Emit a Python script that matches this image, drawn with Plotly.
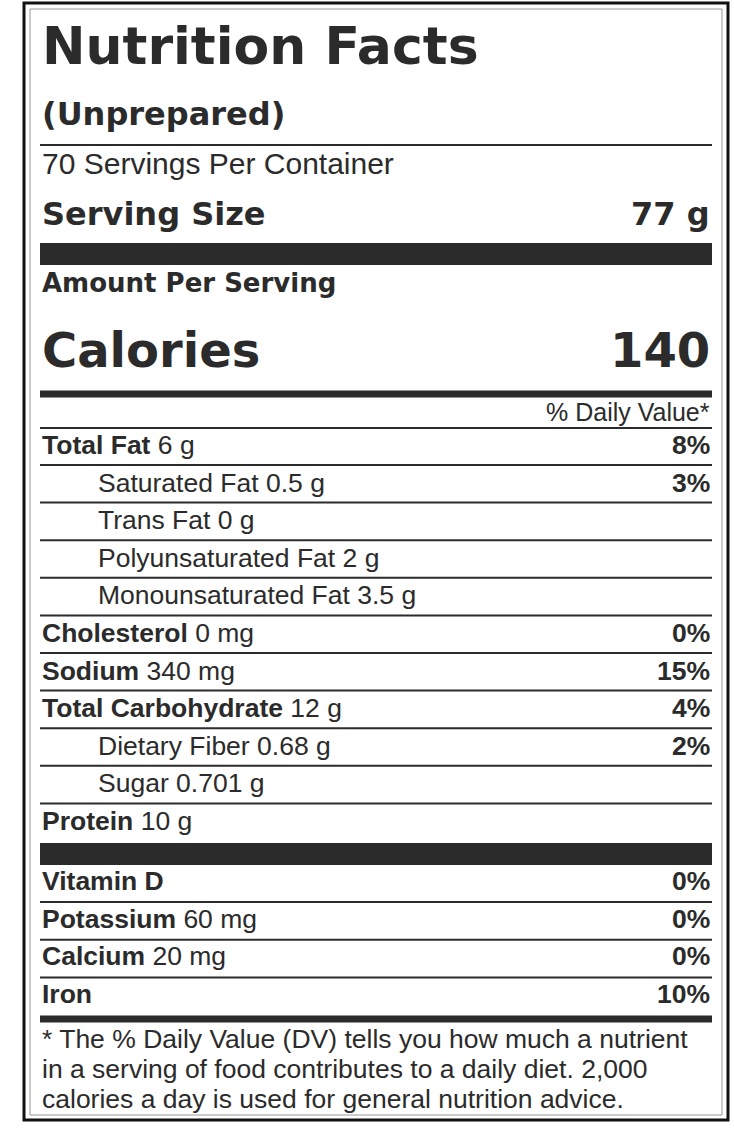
import plotly.graph_objects as go

W, H = 734, 1134
FONT = "Liberation Sans"
HEAVY = "DejaVu Sans"
INK = "#2b2b2b"

# nutrient rows
labels = ["Total Fat", "Saturated Fat", "Trans Fat", "Polyunsaturated Fat",
          "Monounsaturated Fat", "Cholesterol", "Sodium", "Total Carbohydrate",
          "Dietary Fiber", "Sugar", "Protein"]
amounts = ["6 g", "0.5 g", "0 g", "2 g", "3.5 g", "0 mg", "340 mg", "12 g",
           "0.68 g", "0.701 g", "10 g"]
daily = ["8%", "3%", "", "", "", "0%", "15%", "4%", "2%", "", ""]
indented = [False, True, True, True, True, False, False, False, True, True, False]

# vitamins / minerals
vit_labels = ["Vitamin D", "Potassium", "Calcium", "Iron"]
vit_amounts = ["", "60 mg", "20 mg", ""]
vit_daily = ["0%", "0%", "0%", "10%"]

footnote = ["* The % Daily Value (DV) tells you how much a nutrient",
            "in a serving of food contributes to a daily diet. 2,000",
            "calories a day is used for general nutrition advice."]

L, R = 40, 712
fig = go.Figure()
shapes = []
ann = []


def text(x, y, s, size, bold=False, anchor="left", family=FONT):
    if bold:
        s = "<b>" + s + "</b>"
    ann.append(dict(x=x, y=y, text=s, showarrow=False, xanchor=anchor, yanchor="middle",
                    font=dict(family=family, size=size, color=INK)))


def hline(y, w):
    shapes.append(dict(type="rect", x0=L, x1=R, y0=y - w / 2, y1=y + w / 2,
                       fillcolor=INK, line=dict(width=0)))


# borders
shapes.append(dict(type="rect", x0=24, x1=728, y0=3, y1=1120, line=dict(color="#111", width=3)))
shapes.append(dict(type="rect", x0=30, x1=722, y0=9, y1=1115, line=dict(color="#999", width=1)))

text(L, 46, "Nutrition Facts", 52, True, family=HEAVY)
text(L, 114, "(Unprepared)", 32, True, family=HEAVY)
hline(145, 2)
text(L, 163, "70 Servings Per Container", 30)
text(L, 214, "Serving Size", 32, True, family=HEAVY)
text(R, 214, "77 g", 32, True, "right", family=HEAVY)
hline(254, 22)
text(L, 283, "Amount Per Serving", 26, True, family=HEAVY)
text(L, 350, "Calories", 48, True, family=HEAVY)
text(R, 350, "140", 48, True, "right", family=HEAVY)
hline(394, 7)
text(R, 412, "% Daily Value*", 25, anchor="right")
hline(428, 2)

y, step = 445, 37.6
for i in range(len(labels)):
    if indented[i]:
        text(96, y, labels[i] + " " + amounts[i], 26.5)
    else:
        text(L, y, "<b>" + labels[i] + "</b> " + amounts[i], 26.5)
    if daily[i]:
        text(R, y, daily[i], 26.5, True, "right")
    if i < len(labels) - 1:
        hline(y + 20, 2)
    y += step

hline(854, 22)
y = 881
for i in range(len(vit_labels)):
    s = "<b>" + vit_labels[i] + "</b>" + (" " + vit_amounts[i] if vit_amounts[i] else "")
    text(L, y, s, 26.5)
    text(R, y, vit_daily[i], 26.5, True, "right")
    if i < len(vit_labels) - 1:
        hline(y + 21, 2)
    y += 37.7

hline(1019, 7)
for i, s in enumerate(footnote):
    text(L, 1039 + 30 * i, s, 26.5)

fig.update_layout(width=W, height=H, margin=dict(l=0, r=0, t=0, b=0),
                  plot_bgcolor="white", paper_bgcolor="white",
                  shapes=shapes, annotations=ann, showlegend=False,
                  xaxis=dict(range=[0, W], visible=False, fixedrange=True),
                  yaxis=dict(range=[H, 0], visible=False, fixedrange=True))
fig.write_html("out.html", config={"displayModeBar": False},
               post_script="document.body.style.margin='0';")
